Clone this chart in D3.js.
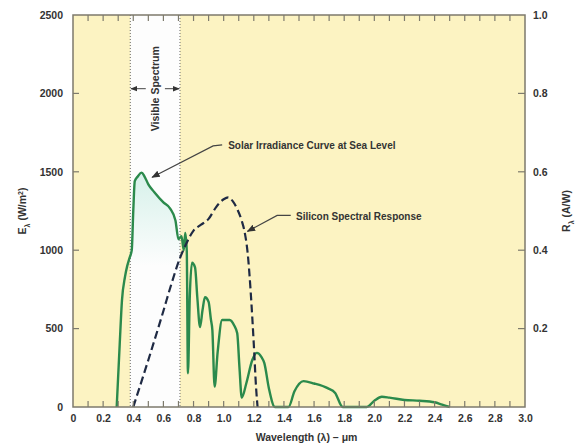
<!DOCTYPE html>
<html>
<head>
<meta charset="utf-8">
<script src="https://cdn.jsdelivr.net/npm/d3@7"></script>
<style>
  body { margin: 0; background: #fff; }
  text { font-family: "Liberation Sans", Arial, sans-serif; font-weight: bold; fill: #333; }
</style>
</head>
<body>
<div id="chart"></div>
<script>
// Solar irradiance at sea level (wavelength in um, W/m^2)
let solarWl = [0.29, 0.31, 0.325, 0.345, 0.36, 0.375, 0.39, 0.40, 0.41, 0.43, 0.455, 0.475, 0.50, 0.54, 0.60, 0.645, 0.68, 0.70, 0.72, 0.735, 0.745, 0.755, 0.763, 0.775, 0.79, 0.81, 0.825, 0.843, 0.86, 0.876, 0.90, 0.915, 0.925, 0.94, 0.96, 0.99, 1.04, 1.07, 1.09, 1.105, 1.12, 1.15, 1.19, 1.22, 1.25, 1.27, 1.30, 1.34, 1.43, 1.47, 1.53, 1.60, 1.69, 1.74, 1.79, 1.95, 2.00, 2.05, 2.10, 2.20, 2.30, 2.40, 2.45, 2.50];
let solarE  = [0, 400, 680, 830, 900, 950, 1000, 1250, 1440, 1470, 1495, 1470, 1420, 1370, 1305, 1265, 1190, 1070, 1090, 1000, 1110, 1000, 215, 700, 920, 890, 700, 510, 620, 700, 670, 560, 490, 130, 350, 555, 555, 520, 470, 250, 60, 150, 300, 345, 320, 280, 120, 0, 0, 100, 165, 150, 120, 90, 0, 0, 40, 65, 60, 45, 40, 30, 15, 0];

// Silicon spectral response (A/W)
let siWl = [0.40, 0.50, 0.60, 0.65, 0.71, 0.75, 0.80, 0.85, 0.90, 0.95, 1.00, 1.03, 1.06, 1.09, 1.12, 1.14, 1.16, 1.18, 1.20, 1.215, 1.225];
let siR  = [0, 0.12, 0.245, 0.31, 0.38, 0.415, 0.45, 0.465, 0.48, 0.51, 0.53, 0.535, 0.525, 0.505, 0.475, 0.445, 0.39, 0.29, 0.16, 0.05, 0];

let visibleBand = [0.38, 0.71];
let xTicks = [0, 0.2, 0.4, 0.6, 0.8, 1.0, 1.2, 1.4, 1.6, 1.8, 2.0, 2.2, 2.4, 2.6, 2.8, 3.0];
let yTicks = [0, 500, 1000, 1500, 2000, 2500];
let rTicks = [0.2, 0.4, 0.6, 0.8, 1.0];

let margin = { top: 15, right: 58, bottom: 39, left: 73 };
let width = 583, height = 446;

let svg = d3.select("#chart").append("svg")
  .attr("width", width)
  .attr("height", height);

// Scales
let x = d3.scaleLinear().domain([0, 3]).range([margin.left, width - margin.right]);
let y = d3.scaleLinear().domain([0, 2500]).range([height - margin.bottom, margin.top]);
let yR = d3.scaleLinear().domain([0, 1]).range([height - margin.bottom, margin.top]);

let solar = solarWl.map((w, i) => ({ w: w, v: solarE[i] }));
let si = siWl.map((w, i) => ({ w: w, v: siR[i] }));

// background
svg.append("rect")
  .attr("x", x(0)).attr("y", y(2500))
  .attr("width", x(3) - x(0)).attr("height", y(0) - y(2500))
  .attr("fill", "#fcf3c2");

svg.append("rect")
  .attr("x", x(visibleBand[0])).attr("y", y(2500))
  .attr("width", x(visibleBand[1]) - x(visibleBand[0])).attr("height", y(0) - y(2500))
  .attr("fill", "#fdfdfd");

let defs = svg.append("defs");
defs.append("clipPath").attr("id", "vis")
  .append("rect")
  .attr("x", x(visibleBand[0])).attr("y", y(2500))
  .attr("width", x(visibleBand[1]) - x(visibleBand[0])).attr("height", y(0) - y(2500));

let grad = defs.append("linearGradient").attr("id", "glow")
  .attr("x1", 0).attr("x2", 0)
  .attr("gradientUnits", "userSpaceOnUse")
  .attr("y1", y(1500)).attr("y2", y(900));
grad.append("stop").attr("offset", 0).attr("stop-color", "#d6f1ea");
grad.append("stop").attr("offset", 1).attr("stop-color", "#fdfdfd");

let area = d3.area().x(d => x(d.w)).y0(y(0)).y1(d => y(d.v)).curve(d3.curveMonotoneX);
svg.append("path")
  .datum(solar)
  .attr("clip-path", "url(#vis)")
  .attr("fill", "url(#glow)")
  .attr("d", area);

// visible band edges
svg.append("g")
  .selectAll("line")
  .data(visibleBand)
  .join("line")
    .attr("x1", d => x(d)).attr("x2", d => x(d))
    .attr("y1", y(2500)).attr("y2", y(0))
    .attr("stroke", "#666")
    .attr("stroke-width", 1)
    .attr("stroke-dasharray", "1,2");

// curves
let solarLine = d3.line().x(d => x(d.w)).y(d => y(d.v)).curve(d3.curveMonotoneX);
svg.append("path")
  .datum(solar)
  .attr("fill", "none")
  .attr("stroke", "#2b8a4c")
  .attr("stroke-width", 2.4)
  .attr("stroke-linejoin", "round")
  .attr("d", solarLine);

let siLine = d3.line().x(d => x(d.w)).y(d => yR(d.v)).curve(d3.curveMonotoneX);
svg.append("path")
  .datum(si)
  .attr("fill", "none")
  .attr("stroke", "#1f2a44")
  .attr("stroke-width", 2.2)
  .attr("stroke-dasharray", "8,4")
  .attr("d", siLine);

// frame
let axisColor = "#7d7a6c";
svg.append("rect")
  .attr("x", x(0)).attr("y", y(2500))
  .attr("width", x(3) - x(0)).attr("height", y(0) - y(2500))
  .attr("fill", "none")
  .attr("stroke", axisColor)
  .attr("stroke-width", 1.5);

// axes
let xAxis = d3.axisBottom(x)
  .tickValues(xTicks)
  .tickSize(0)
  .tickPadding(8)
  .tickFormat(d => d === 0 ? "0" : d3.format(".1f")(d));
let xAxisEl = svg.append("g")
  .attr("transform", "translate(0," + y(0) + ")")
  .call(xAxis);

let yAxis = d3.axisLeft(y).tickValues(yTicks).tickSize(0).tickPadding(10).tickFormat(d3.format("d"));
let yAxisEl = svg.append("g")
  .attr("transform", "translate(" + x(0) + ",0)")
  .call(yAxis);

let rAxis = d3.axisRight(yR).tickValues(rTicks).tickSize(0).tickPadding(8).tickFormat(d3.format(".1f"));
let rAxisEl = svg.append("g")
  .attr("transform", "translate(" + x(3) + ",0)")
  .call(rAxis);

[xAxisEl, yAxisEl, rAxisEl].forEach(g => {
  g.select(".domain").remove();
  g.selectAll("text").style("font-size", "10.5px").attr("fill", "#3a3a3a");
});

// minor ticks top and bottom, every 0.1
let minor = d3.range(1, 30).map(d => d / 10);
svg.append("g")
  .selectAll("line")
  .data(minor)
  .join("line")
    .attr("x1", d => x(d)).attr("x2", d => x(d))
    .attr("y1", y(0)).attr("y2", y(0) - 6)
    .attr("stroke", axisColor).attr("stroke-width", 1.2);
svg.append("g")
  .selectAll("line")
  .data(minor)
  .join("line")
    .attr("x1", d => x(d)).attr("x2", d => x(d))
    .attr("y1", y(2500)).attr("y2", y(2500) + 6)
    .attr("stroke", axisColor).attr("stroke-width", 1.2);
svg.append("g")
  .selectAll("line")
  .data(yTicks.slice(1, -1))
  .join("line")
    .attr("x1", x(0)).attr("x2", x(0) + 6)
    .attr("y1", d => y(d)).attr("y2", d => y(d))
    .attr("stroke", axisColor).attr("stroke-width", 1.2);
svg.append("g")
  .selectAll("line")
  .data(rTicks.slice(0, -1))
  .join("line")
    .attr("x1", x(3)).attr("x2", x(3) - 7)
    .attr("y1", d => yR(d)).attr("y2", d => yR(d))
    .attr("stroke", axisColor).attr("stroke-width", 1.2);

// axis titles
svg.append("text")
  .attr("x", x(1.55)).attr("y", height - 5)
  .attr("text-anchor", "middle")
  .style("font-size", "10.5px")
  .text("Wavelength (λ) – μm");

let leftTitle = svg.append("text")
  .attr("transform", "translate(26," + y(1250) + ") rotate(-90)")
  .attr("text-anchor", "middle")
  .style("font-size", "10.5px");
leftTitle.append("tspan").text("E");
leftTitle.append("tspan").attr("baseline-shift", "sub").style("font-size", "7px").text("λ");
leftTitle.append("tspan").text(" (W/m");
leftTitle.append("tspan").attr("baseline-shift", "super").style("font-size", "7px").text("2");
leftTitle.append("tspan").text(")");

let rightTitle = svg.append("text")
  .attr("transform", "translate(570," + y(1250) + ") rotate(-90)")
  .attr("text-anchor", "middle")
  .style("font-size", "10.5px");
rightTitle.append("tspan").text("R");
rightTitle.append("tspan").attr("baseline-shift", "sub").style("font-size", "7px").text("λ");
rightTitle.append("tspan").text(" (A/W)");

// annotations
defs.append("marker").attr("id", "arrow")
  .attr("viewBox", "0 0 10 10").attr("refX", 9).attr("refY", 5)
  .attr("markerWidth", 7).attr("markerHeight", 7)
  .attr("orient", "auto-start-reverse")
  .append("path").attr("d", "M0,1L10,5L0,9z").attr("fill", "#333");

let notes = [
  { text: "Solar Irradiance Curve at Sea Level", at: [1.03, 1645], path: [[0.99, 1672], [0.93, 1665], [0.525, 1465]] },
  { text: "Silicon Spectral Response", at: [1.48, 1195], path: [[1.445, 1222], [1.355, 1222], [1.158, 1120]] }
];
let leader = d3.line().x(d => x(d[0])).y(d => y(d[1]));
notes.forEach(n => {
  svg.append("path")
    .attr("d", leader(n.path))
    .attr("fill", "none")
    .attr("stroke", "#444")
    .attr("stroke-width", 1.2)
    .attr("marker-end", "url(#arrow)");
  svg.append("text")
    .attr("x", x(n.at[0])).attr("y", y(n.at[1]))
    .style("font-size", "10px")
    .attr("fill", "#2a2a2a")
    .text(n.text);
});

// visible spectrum label
let visMid = (visibleBand[0] + visibleBand[1]) / 2;
svg.append("text")
  .attr("transform", "translate(" + (x(visMid) + 4) + "," + y(2030) + ") rotate(-90)")
  .attr("text-anchor", "middle")
  .style("font-size", "10.5px")
  .text("Visible Spectrum");
svg.append("path")
  .attr("d", leader([[visMid - 0.062, 2030], [visibleBand[0] + 0.005, 2030]]))
  .attr("stroke", "#444").attr("stroke-width", 1).attr("marker-end", "url(#arrow)");
svg.append("path")
  .attr("d", leader([[visMid + 0.065, 2030], [visibleBand[1] - 0.005, 2030]]))
  .attr("stroke", "#444").attr("stroke-width", 1).attr("marker-end", "url(#arrow)");
</script>
</body>
</html>
